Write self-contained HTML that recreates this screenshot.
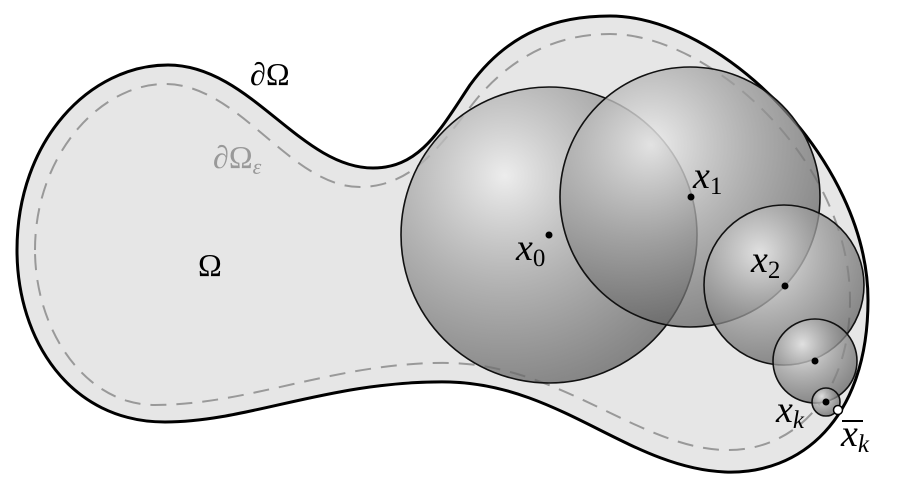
<!DOCTYPE html>
<html><head><meta charset="utf-8"><style>html,body{margin:0;padding:0;background:#fff}svg{display:block}</style></head><body>
<svg width="899" height="503" viewBox="0 0 899 503" xmlns="http://www.w3.org/2000/svg" font-family="'Liberation Serif', 'DejaVu Serif', serif">
<defs>
<radialGradient id="g" cx="0.35" cy="0.3" r="0.75">
<stop offset="0" stop-color="#eeeeee" stop-opacity="0.85"/>
<stop offset="0.5" stop-color="#a0a0a0" stop-opacity="0.75"/>
<stop offset="1" stop-color="#5a5a5a" stop-opacity="0.7"/>
</radialGradient>
</defs>
<path d="M 17,250 C 17,140 90,65 168,65 C 250,65 300,168 373,168 C 420,168 440,130 470,85 C 510,30 560,16 610,16 C 720,16 868,160 868,300 C 868,420 800,475 725,472 C 630,468 560,385 450,382 C 330,380 250,422 165,422 C 70,422 17,340 17,250 Z" fill="#e6e6e6" stroke="#000" stroke-width="3"/>
<path d="M 35,250 C 35,155 100,84 165,84 C 240,84 290,187 360,187 C 420,187 450,130 480,95 C 520,50 565,34 610,34 C 710,34 850,160 850,300 C 850,400 790,452 725,450 C 640,448 560,365 450,363 C 340,361 250,405 155,405 C 85,405 35,330 35,250 Z" fill="none" stroke="#999" stroke-width="2" stroke-dasharray="16,10"/>
<g stroke="#111" stroke-width="1.6" fill="url(#g)">
<circle cx="549" cy="235" r="148"/>
<circle cx="690" cy="197" r="130"/>
<circle cx="784" cy="285" r="80"/>
<circle cx="815" cy="361" r="42"/>
<circle cx="826" cy="402" r="14"/>
</g>
<g fill="#000">
<circle cx="549" cy="235" r="3.5"/>
<circle cx="691" cy="197" r="3.5"/>
<circle cx="785" cy="286" r="3.5"/>
<circle cx="815" cy="361" r="3.5"/>
<circle cx="826" cy="402" r="3.5"/>
</g>
<circle cx="838" cy="410" r="4.5" fill="#fff" stroke="#000" stroke-width="1.5"/>
<text x="250" y="85" font-size="32" font-family="'Liberation Serif', serif">∂Ω</text>
<text x="213" y="168" font-size="32" fill="#999" font-family="'Liberation Serif', serif">∂Ω<tspan font-size="22" font-style="italic" dy="6">ε</tspan></text>
<text x="198" y="276" font-size="32" font-family="'Liberation Serif', serif">Ω</text>
<g font-style="italic" font-size="38" font-family="'Liberation Serif', serif">
<text x="516" y="260">x<tspan font-style="normal" font-size="25" dy="6">0</tspan></text>
<text x="693" y="188">x<tspan font-style="normal" font-size="25" dy="6">1</tspan></text>
<text x="751" y="272">x<tspan font-style="normal" font-size="25" dy="6">2</tspan></text>
<text x="776" y="422">x<tspan font-size="25" dy="6">k</tspan></text>
<text x="841" y="446">x<tspan font-size="25" dy="6">k</tspan></text>
</g>
<line x1="842" y1="421" x2="863" y2="421" stroke="#000" stroke-width="2"/>
</svg>
</body></html>
